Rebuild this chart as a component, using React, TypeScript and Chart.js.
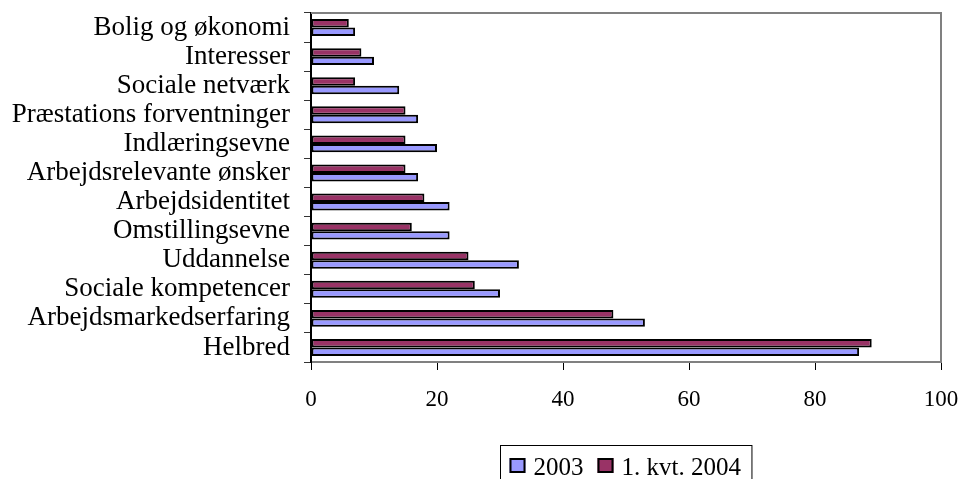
import { useEffect, useRef } from "react";
import { Chart, registerables } from "chart.js";

Chart.register(...registerables);

const categories = [
  "Bolig og økonomi",
  "Interesser",
  "Sociale netværk",
  "Præstations forventninger",
  "Indlæringsevne",
  "Arbejdsrelevante ønsker",
  "Arbejdsidentitet",
  "Omstillingsevne",
  "Uddannelse",
  "Sociale kompetencer",
  "Arbejdsmarkedserfaring",
  "Helbred",
];
const values2003 = [7, 10, 14, 17, 20, 17, 22, 22, 33, 30, 53, 87];
const values2004 = [6, 8, 7, 15, 15, 15, 18, 16, 25, 26, 48, 89];
const xTicks = [0, 20, 40, 60, 80, 100];
const seriesNames = ["2003", "1. kvt. 2004"];
const seriesColors = ["#9999FF", "#993366"];

const FONT = "'Liberation Serif', 'Times New Roman', serif";

const frameAndLegend = {
  id: "frameAndLegend",
  afterDraw(chart: any) {
    const { ctx, chartArea } = chart;
    ctx.save();
    // plot frame (top & right)
    ctx.strokeStyle = "#808080";
    ctx.lineWidth = 2;
    ctx.beginPath();
    ctx.moveTo(chartArea.left, chartArea.top);
    ctx.lineTo(chartArea.right, chartArea.top);
    ctx.lineTo(chartArea.right, chartArea.bottom);
    ctx.stroke();

    // legend (datasets in reversed order: 2003 first)
    const ds = chart.data.datasets.slice().reverse();
    ctx.font = `25px ${FONT}`;
    const padL = 9, sq = 16, gapSq = 8, gapItem = 14, padR = 11;
    let total = padL + padR;
    ds.forEach((d: any, i: number) => {
      total += sq + gapSq + ctx.measureText(d.label).width;
      if (i < ds.length - 1) total += gapItem;
    });
    const cx = (chartArea.left + chartArea.right) / 2;
    const left = Math.round(cx - total / 2) + 0.5;
    const top = 437.5;
    ctx.strokeStyle = "#000";
    ctx.lineWidth = 1;
    ctx.strokeRect(left, top, total, 60);
    let x = left + padL;
    const sqTop = 450;
    ctx.textBaseline = "alphabetic";
    ctx.textAlign = "left";
    ds.forEach((d: any, i: number) => {
      ctx.fillStyle = d.backgroundColor;
      ctx.fillRect(x, sqTop, sq, 15);
      ctx.strokeStyle = "#000";
      ctx.lineWidth = 2;
      ctx.strokeRect(x + 1, sqTop + 1, sq - 2, 13);
      x += sq + gapSq;
      ctx.fillStyle = "#000";
      ctx.fillText(d.label, x, 467);
      x += ctx.measureText(d.label).width + gapItem;
    });
    ctx.restore();
  },
};

export default function App() {
  const ref = useRef<HTMLCanvasElement | null>(null);

  useEffect(() => {
    if (!ref.current) return;
    const chart = new Chart(ref.current, {
      type: "bar",
      data: {
        labels: categories,
        datasets: [
          {
            label: seriesNames[1],
            data: values2004,
            backgroundColor: seriesColors[1],
            borderColor: "#000",
            borderWidth: 2,
            borderSkipped: false,
          },
          {
            label: seriesNames[0],
            data: values2003,
            backgroundColor: seriesColors[0],
            borderColor: "#000",
            borderWidth: 2,
            borderSkipped: false,
          },
        ],
      },
      options: {
        indexAxis: "y",
        responsive: false,
        animation: false,
        devicePixelRatio: 1,
        layout: { padding: { top: 5, right: 20, left: 0, bottom: 0 } },
        datasets: {
          bar: { categoryPercentage: 0.58, barPercentage: 1 },
        },
        plugins: {
          legend: { display: false },
          tooltip: { enabled: false },
          title: { display: false },
        },
        scales: {
          x: {
            type: "linear",
            min: 0,
            max: 100,
            afterBuildTicks: (scale: any) => {
              scale.ticks = xTicks.map((v) => ({ value: v }));
            },
            afterFit: (scale: any) => {
              scale.height = 117;
              scale.paddingLeft = 0;
              scale.paddingRight = 0;
            },
            ticks: {
              color: "#000",
              padding: 16,
              font: { family: FONT, size: 23 },
            },
            grid: {
              drawOnChartArea: false,
              drawTicks: true,
              tickLength: 8,
              color: "#000",
              lineWidth: 1,
            },
            border: { color: "#808080", width: 2 },
          },
          y: {
            type: "category",
            afterFit: (scale: any) => {
              scale.width = 303;
              scale.paddingTop = 0;
              scale.paddingBottom = 0;
            },
            ticks: {
              color: "#000",
              padding: 14,
              font: { family: FONT, size: 27 },
              autoSkip: false,
            },
            grid: {
              offset: true,
              drawOnChartArea: false,
              drawTicks: true,
              tickLength: 7,
              color: "#333",
              lineWidth: 1,
            },
            border: { color: "#000", width: 2 },
          },
        },
      },
      plugins: [frameAndLegend],
    });
    return () => chart.destroy();
  }, []);

  return (
    <div
      style={{
        position: "fixed",
        left: 8,
        top: 8,
        width: 953,
        height: 471,
        overflow: "hidden",
        background: "#fff",
      }}
    >
      <canvas ref={ref} width={953} height={471} style={{ display: "block" }} />
    </div>
  );
}
